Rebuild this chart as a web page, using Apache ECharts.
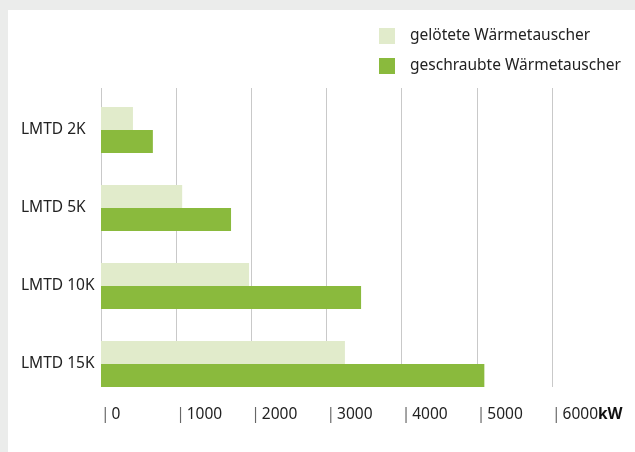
<!DOCTYPE html>
<html>
<head>
<meta charset="utf-8">
<script src="https://cdn.jsdelivr.net/npm/echarts@6/dist/echarts.min.js"></script>
<style>
html,body{margin:0;padding:0;background:#ebeceb;}
#chart{width:635px;height:452px;}
</style>
</head>
<body>
<div id="chart"></div>
<script>
const categories = ['LMTD 2K', 'LMTD 5K', 'LMTD 10K', 'LMTD 15K'];
const seriesNames = ['gelötete Wärmetauscher', 'geschraubte Wärmetauscher'];
const geloetet = [425, 1080, 1970, 3245];
const geschraubt = [690, 1730, 3460, 5100];
const axisMin = 0, axisMax = 6000, axisStep = 1000;
const unit = 'kW';

const FONT = 'Noto Sans';
const FS = 15.5;
const chart = echarts.init(document.getElementById('chart'), null, {renderer: 'canvas'});
chart.setOption({
  animation: false,
  backgroundColor: '#ebeceb',
  textStyle: {fontFamily: FONT},
  graphic: [{
    type: 'rect', z: -10, silent: true,
    shape: {x: 8, y: 10, width: 627, height: 442},
    style: {fill: '#ffffff'}
  }],
  legend: {
    orient: 'vertical',
    left: 379, top: 28, padding: 0,
    itemWidth: 16, itemHeight: 16, itemGap: 14,
    icon: 'rect',
    textStyle: {fontFamily: FONT, fontSize: FS, color: '#222', padding: [0, 0, 0, 10]},
    data: seriesNames
  },
  grid: [
    {left: 101, width: 451, top: 91, height: 312},
    {left: 101, width: 451, top: 88, height: 299}
  ],
  xAxis: [
    {gridIndex: 0, type: 'value', min: axisMin, max: axisMax, interval: axisStep, show: false},
    {
      gridIndex: 1, type: 'value', min: axisMin, max: axisMax, interval: axisStep,
      position: 'bottom',
      axisLine: {show: false},
      axisTick: {show: false},
      splitLine: {show: true, lineStyle: {color: '#c9c9c9', width: 1}},
      axisLabel: {
        align: 'left', verticalAlign: 'middle', margin: 28,
        fontFamily: FONT, fontSize: FS, color: '#222',
        formatter: function (v) {
          return '{p||}' + '{v|' + v + '}' + (v === axisMax ? '{k|' + unit + '}' : '');
        },
        rich: {
          p: {fontFamily: FONT, fontSize: FS, color: '#666', padding: [0, 2, 0, 0]},
          v: {fontFamily: FONT, fontSize: FS, color: '#222'},
          k: {fontFamily: FONT, fontSize: FS, fontWeight: 'bold', color: '#111'}
        }
      }
    }
  ],
  yAxis: [
    {
      gridIndex: 0, type: 'category', data: categories, inverse: true,
      axisLine: {show: false}, axisTick: {show: false}, splitLine: {show: false},
      axisLabel: {align: 'left', margin: 80, fontFamily: FONT, fontSize: FS, color: '#222'}
    },
    {gridIndex: 1, type: 'value', show: false, min: 0, max: 1}
  ],
  series: [
    {
      name: seriesNames[0], type: 'bar', xAxisIndex: 0, yAxisIndex: 0,
      data: geloetet, barWidth: 23, barGap: '0%',
      itemStyle: {color: '#e1ebcb'}
    },
    {
      name: seriesNames[1], type: 'bar', xAxisIndex: 0, yAxisIndex: 0,
      data: geschraubt, barWidth: 23, barGap: '0%',
      itemStyle: {color: '#8aba3d'}
    }
  ]
});
</script>
</body>
</html>
